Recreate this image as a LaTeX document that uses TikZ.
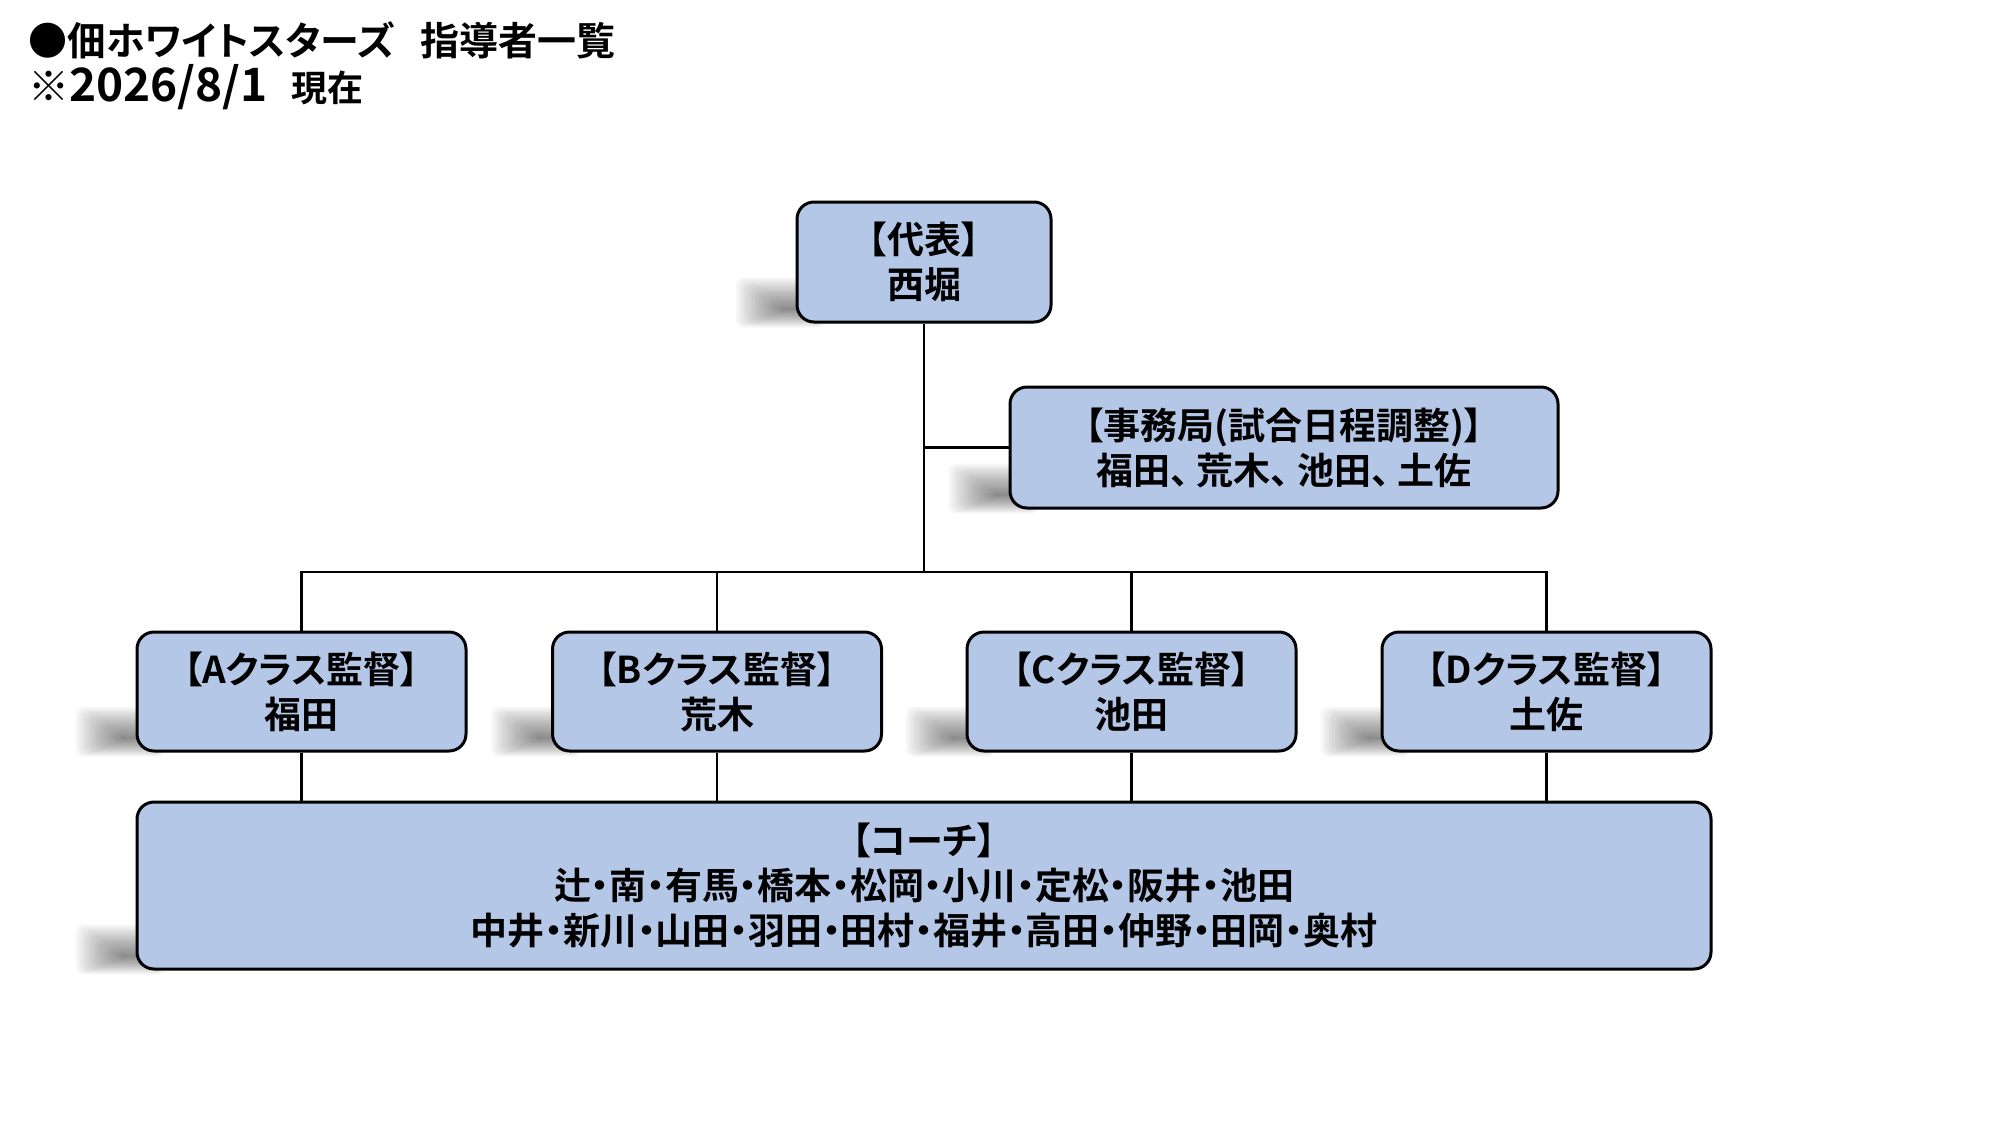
\documentclass[tikz,border=0pt]{standalone}
\usepackage{fontspec}
\setmainfont{Noto Sans CJK JP}[BoldFont={* Bold},RawFeature=+palt]
\usetikzlibrary{calc}
\pgfdeclarelayer{bg}
\pgfsetlayers{bg,main}
\definecolor{boxblue}{HTML}{B4C7E7}
\tikzset{
  orgbox/.style={draw=black, line width=3pt, fill=boxblue, rounded corners=17pt,
    align=center, inner sep=0pt, font=\fontsize{37}{45}\selectfont\bfseries},
  conn/.style={draw=black, line width=2.3pt},
  titletext/.style={anchor=base west, inner sep=0pt}
}
\newcommand\castshadow[1]{%
  \foreach \k in {0,...,17}{%
    \fill[black, opacity=0.032, rounded corners=8pt]
      ([xshift=-60pt+\k*2.8pt, yshift=-4pt+\k*1.1pt]#1.south west) rectangle
      ([xshift=30pt-\k*1pt, yshift=46pt-\k*1.9pt]#1.south west);
  }}
\newcommand\dg[1]{{\fontsize{46}{46}\selectfont #1}}
\begin{document}
\begin{tikzpicture}[x=1pt,y=-1pt]
\useasboundingbox (0,0) rectangle (2010,1135);

\node[titletext, font=\fontsize{39}{48}\selectfont\bfseries] (t1) at (28,55) {●佃ホワイトスターズ\hspace{26pt}指導者一覧};
\node[titletext, font=\fontsize{36}{44}\selectfont\bfseries] (t2) at (28,101) {{\fontsize{41}{41}\selectfont ※}\dg{2026/8/1}\hspace{24pt}現在};

\node[orgbox, minimum width=254pt, minimum height=120pt] (rep) at (924,262) {【代表】\\西堀};
\node[orgbox, minimum width=548pt, minimum height=121pt] (sec) at (1284,447.5) {【事務局(試合日程調整)】\\福田、\hspace{8pt}荒木、\hspace{8pt}池田、\hspace{8pt}土佐};
\node[orgbox, minimum width=329pt, minimum height=119pt] (A) at (301.5,691.5) {【Aクラス監督】\\福田};
\node[orgbox, minimum width=329pt, minimum height=119pt] (B) at (717,691.5) {【Bクラス監督】\\荒木};
\node[orgbox, minimum width=329pt, minimum height=119pt] (C) at (1131.5,691.5) {【Cクラス監督】\\池田};
\node[orgbox, minimum width=329pt, minimum height=119pt] (D) at (1546.5,691.5) {【Dクラス監督】\\土佐};
\node[orgbox, minimum width=1574pt, minimum height=167pt] (coach) at (924,885.5) {【コーチ】\\辻・南・有馬・橋本・松岡・小川・定松・阪井・池田\\中井・新川・山田・羽田・田村・福井・高田・仲野・田岡・奥村};

\coordinate (bus) at (924,572);
\begin{pgfonlayer}{bg}
  \fill[white] (0,0) rectangle (2010,1135);
  \castshadow{rep}
  \castshadow{sec}
  \castshadow{A}
  \castshadow{B}
  \castshadow{C}
  \castshadow{D}
  \castshadow{coach}
  \draw[conn] (rep.south) -- (bus);
  \draw[conn] (sec.west) -- (sec.west -| rep.south);
  \draw[conn] (A.north) -- (A.north |- bus) -- (D.north |- bus) -- (D.north);
  \draw[conn] (B.north) -- (B.north |- bus);
  \draw[conn] (C.north) -- (C.north |- bus);
  \foreach \n in {A,B,C,D} \draw[conn] (\n.south) -- (\n.south |- coach.north);
\end{pgfonlayer}
\end{tikzpicture}
\end{document}
